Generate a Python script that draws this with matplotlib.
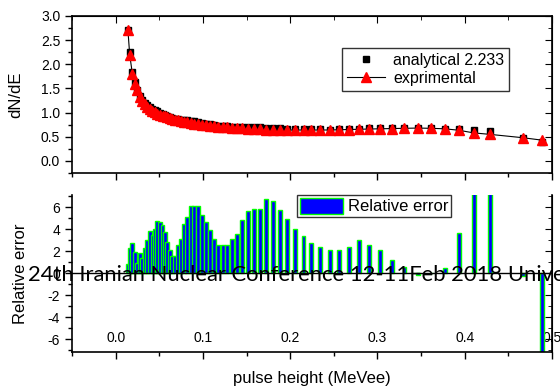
import matplotlib
matplotlib.use("Agg")
import matplotlib.pyplot as plt
from matplotlib.ticker import MultipleLocator

plt.rcParams['font.family'] = ['Liberation Sans', 'DejaVu Sans']
plt.rcParams['axes.unicode_minus'] = False

# pulse height (MeVee)
energy = [0.0141, 0.0161, 0.0192, 0.0218, 0.0245, 0.0276, 0.0302, 0.0333, 0.0360, 0.0391,
          0.0422, 0.0448, 0.0479, 0.0506, 0.0537, 0.0563, 0.0590, 0.0621, 0.0647, 0.0678,
          0.0713, 0.0747, 0.0782, 0.0820, 0.0859, 0.0897, 0.0939, 0.0985, 0.1031, 0.1080,
          0.1126, 0.1176, 0.1226, 0.1272, 0.1330, 0.1387, 0.1445, 0.1514, 0.1583, 0.1655,
          0.1728, 0.1801, 0.1885, 0.1969, 0.2057, 0.2153, 0.2241, 0.2345, 0.2454, 0.2555,
          0.2670, 0.2785, 0.2900, 0.3034, 0.3172, 0.3310, 0.3460, 0.3609, 0.3770, 0.3931,
          0.4103, 0.4287, 0.4667, 0.4885]

experimental = [2.70, 2.20, 1.80, 1.60, 1.46, 1.33, 1.24, 1.17, 1.12, 1.08,
                1.04, 1.01, 0.98, 0.96, 0.94, 0.92, 0.90, 0.88, 0.87, 0.85,
                0.84, 0.82, 0.81, 0.80, 0.78, 0.77, 0.76, 0.75, 0.74, 0.73,
                0.72, 0.71, 0.70, 0.70, 0.69, 0.68, 0.68, 0.67, 0.66, 0.66,
                0.65, 0.65, 0.64, 0.64, 0.64, 0.64, 0.64, 0.64, 0.64, 0.645,
                0.65, 0.655, 0.66, 0.665, 0.67, 0.675, 0.68, 0.675, 0.665, 0.635,
                0.58, 0.55, 0.48, 0.43]

analytical = [2.72, 2.25, 1.85, 1.63, 1.47, 1.35, 1.26, 1.20, 1.15, 1.12,
              1.08, 1.05, 1.03, 1.00, 0.98, 0.95, 0.93, 0.90, 0.88, 0.86,
              0.86, 0.85, 0.85, 0.84, 0.83, 0.82, 0.81, 0.79, 0.77, 0.76,
              0.74, 0.73, 0.72, 0.72, 0.71, 0.70, 0.71, 0.71, 0.70, 0.70,
              0.69, 0.69, 0.68, 0.67, 0.67, 0.66, 0.66, 0.66, 0.65, 0.66,
              0.67, 0.67, 0.68, 0.68, 0.68, 0.68, 0.68, 0.675, 0.67, 0.66,
              0.64, 0.61, 0.48, 0.39]

rel_error = [0.8, 2.25, 2.7, 1.95, 0.9, 1.8, 1.35, 2.25, 3.0, 3.85,
             3.45, 4.05, 4.75, 4.65, 4.35, 3.75, 2.85, 2.1, 1.55, 1.6,
             2.55, 3.1, 4.5, 5.1, 6.1, 6.1, 6.1, 5.3, 4.65, 3.9,
             3.15, 2.55, 2.55, 2.55, 3.15, 3.6, 4.8, 5.65, 5.8, 5.8,
             6.7, 6.6, 5.7, 4.9, 4.05, 3.4, 2.75, 2.4, 2.15, 2.15,
             2.4, 3.0, 2.6, 2.1, 1.2, 0.55, -0.2, 0.05, 0.5, 3.65,
             10.0, 10.0, -0.25, -10.0]

fig = plt.figure(figsize=(5.6, 3.87), dpi=100)
ax1 = fig.add_axes([0.1286, 0.553, 0.857, 0.4057])
ax2 = fig.add_axes([0.1286, 0.0904, 0.857, 0.4057])

# top panel
ax1.plot(energy, analytical, 's', color='black', ms=5, label='analytical 2.233', zorder=2)
ax1.plot(energy, experimental, '-^', color='black', lw=0.8, mfc='red', mec='red', ms=6.5,
         label='exprimental', zorder=3)
ax1.set_xlim(-0.05, 0.5)
ax1.set_ylim(-0.25, 3.0)
ax1.yaxis.set_major_locator(MultipleLocator(0.5))
ax1.yaxis.set_minor_locator(MultipleLocator(0.25))
ax1.xaxis.set_major_locator(MultipleLocator(0.1))
ax1.xaxis.set_minor_locator(MultipleLocator(0.05))
ax1.tick_params(which='both', direction='out', labelsize=10, width=1)
ax1.tick_params(which='major', length=5)
ax1.tick_params(which='minor', length=3)
ax1.tick_params(axis='x', labelbottom=False)
ax1.yaxis.set_major_formatter(matplotlib.ticker.FormatStrFormatter('%.1f'))
ax1.set_ylabel('dN/dE', fontsize=12)
ax1.yaxis.set_label_coords(-0.102, 0.5)
for s in ax1.spines.values():
    s.set_linewidth(1.2)

top = ax1.secondary_xaxis('top')
top.xaxis.set_major_locator(MultipleLocator(0.1))
top.xaxis.set_minor_locator(MultipleLocator(0.05))
top.tick_params(which='both', direction='in', labeltop=False)
top.tick_params(which='major', length=5)
top.tick_params(which='minor', length=3)
right = ax1.secondary_yaxis('right')
right.yaxis.set_major_locator(MultipleLocator(0.5))
right.yaxis.set_minor_locator(MultipleLocator(0.25))
right.tick_params(which='both', direction='in', labelright=False)
right.tick_params(which='major', length=5)
right.tick_params(which='minor', length=3)

leg1 = ax1.legend(loc='upper left', bbox_to_anchor=(0.5625, 0.796), borderaxespad=0,
                  fontsize=11.5, frameon=True, fancybox=False, edgecolor='black',
                  handlelength=2.4, handletextpad=0.5, borderpad=0.3, labelspacing=0.2)
leg1.get_frame().set_linewidth(1.0)

# bottom panel
ax2.bar(energy, rel_error, width=0.0045, color='#0000ff', edgecolor='#00ff00',
        linewidth=1.0, label='Relative error', zorder=2)
ax2.axhline(0, color='black', lw=1.0, zorder=3)
ax2.set_xlim(-0.05, 0.5)
ax2.set_ylim(-7.15, 7.1)
ax2.yaxis.set_major_locator(MultipleLocator(2))
ax2.yaxis.set_minor_locator(MultipleLocator(1))
ax2.xaxis.set_major_locator(MultipleLocator(0.1))
ax2.xaxis.set_minor_locator(MultipleLocator(0.05))
ax2.xaxis.set_major_formatter(matplotlib.ticker.FormatStrFormatter('%.1f'))
ax2.tick_params(which='both', direction='out', labelsize=10, width=1)
ax2.tick_params(which='major', length=5)
ax2.tick_params(which='minor', length=3)
ax2.tick_params(axis='x', pad=-20)
ax2.spines['top'].set_visible(False)
for s in ax2.spines.values():
    s.set_linewidth(1.2)
ax2.set_ylabel('Relative error', fontsize=12)
ax2.yaxis.set_label_coords(-0.092, 0.5)
ax2.set_xlabel('pulse height (MeVee)', fontsize=12)
ax2.xaxis.set_label_coords(0.5, -0.12)

right2 = ax2.secondary_yaxis('right')
right2.yaxis.set_major_locator(MultipleLocator(2))
right2.yaxis.set_minor_locator(MultipleLocator(1))
right2.tick_params(which='both', direction='in', labelright=False)
right2.tick_params(which='major', length=5)
right2.tick_params(which='minor', length=3)

leg2 = ax2.legend(loc='upper left', bbox_to_anchor=(0.469, 1.0), borderaxespad=0,
                  fontsize=12, frameon=True, fancybox=False, edgecolor='black',
                  handlelength=2.6, handleheight=1.1, handletextpad=0.3, borderpad=0.15)
leg2.get_frame().set_linewidth(1.0)

# conference watermark
fig.text(0.05, 1 - 281 / 387, '24th Iranian Nuclear Conference 12-11Feb 2018 Unive',
         fontsize=15.8, family=['Lato', 'DejaVu Sans'], color='black', va='baseline',
         ha='left', zorder=10)

fig.savefig('out.png', dpi=100)
